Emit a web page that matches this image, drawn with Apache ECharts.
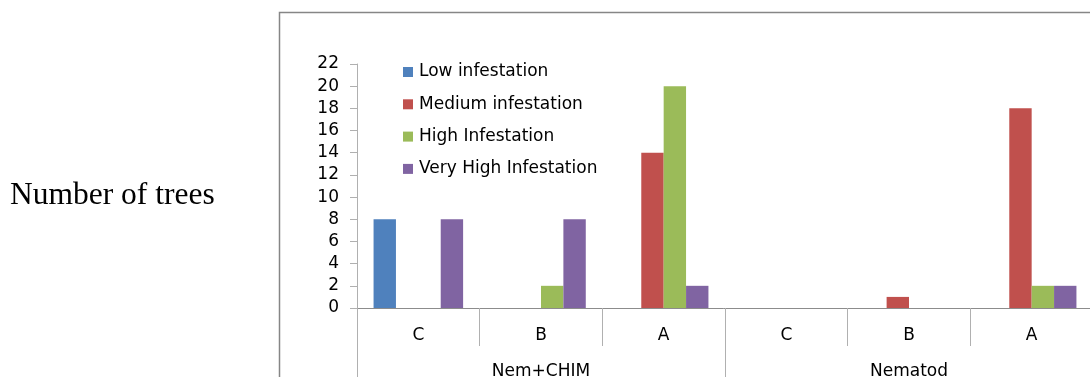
<!DOCTYPE html>
<html>
<head>
<meta charset="utf-8">
<script src="https://cdn.jsdelivr.net/npm/echarts@6/dist/echarts.min.js"></script>
<style>
html,body{margin:0;padding:0;background:#fff;}
#c{width:1090px;height:377px;}
</style>
</head>
<body>
<div id="c"></div>
<script>
const categories = ['C', 'B', 'A', 'C', 'B', 'A'];
const groups = ['Nem+CHIM', 'Nematod'];
const seriesNames = ['Low infestation', 'Medium infestation', 'High Infestation', 'Very High Infestation'];
const lowInfestation = [8, 0, 0, 0, 0, 0];
const mediumInfestation = [0, 0, 14, 0, 1, 18];
const highInfestation = [0, 2, 20, 0, 0, 2];
const veryHighInfestation = [8, 8, 2, 0, 0, 2];
const yTicks = [0, 22, 2];
const colors = ['#4F81BD', '#C0504D', '#9BBB59', '#8064A2'];

const chart = echarts.init(document.getElementById('c'));
const font = 'DejaVu Sans';
const values = [lowInfestation, mediumInfestation, highInfestation, veryHighInfestation];

chart.setOption({
  animation: false,
  color: colors,
  graphic: [
    { type: 'rect', shape: { x: 279.5, y: 12.5, width: 900, height: 500 },
      style: { fill: 'none', stroke: '#868686', lineWidth: 1.5 }, silent: true },
    { type: 'text', left: 10, top: 180,
      style: { text: 'Number of trees', font: '31.5px "Liberation Serif"', fill: '#000' } }
  ],
  legend: {
    orient: 'vertical', left: 398, top: 57,
    itemWidth: 10, itemHeight: 10, itemGap: 12.3,
    icon: 'rect',
    textStyle: { fontFamily: font, fontSize: 17, color: '#000', lineHeight: 20, padding: [0, 0, 0, 1] },
    data: seriesNames
  },
  grid: { left: 357, top: 64, width: 736, height: 244, containLabel: false, outerBoundsMode: 'none' },
  xAxis: [
    {
      type: 'category', data: categories, position: 'bottom',
      axisLine: { lineStyle: { color: '#8c8c8c', width: 1 } },
      axisTick: { show: true, interval: 0, length: 38, lineStyle: { color: '#b0b0b0' } },
      axisLabel: { interval: 0, margin: 19, fontFamily: font, fontSize: 17, color: '#000' }
    },
    {
      type: 'category', data: groups, position: 'bottom',
      axisLine: { show: false },
      axisTick: { show: true, interval: 0, length: 90, lineStyle: { color: '#b0b0b0' } },
      axisLabel: { interval: 0, margin: 55, fontFamily: font, fontSize: 17, color: '#000' }
    }
  ],
  yAxis: {
    type: 'value', min: yTicks[0], max: yTicks[1], interval: yTicks[2],
    axisLine: { show: true, lineStyle: { color: '#b0b0b0' } },
    axisTick: { show: true, length: 7, lineStyle: { color: '#b0b0b0' } },
    axisLabel: { margin: 18, fontFamily: font, fontSize: 17, color: '#000' },
    splitLine: { show: false }
  },
  series: seriesNames.map((n, i) => ({
    name: n, type: 'bar', xAxisIndex: 0, data: values[i],
    barGap: '0%', barCategoryGap: '27%',
    itemStyle: { color: colors[i] }
  }))
});
</script>
</body>
</html>
